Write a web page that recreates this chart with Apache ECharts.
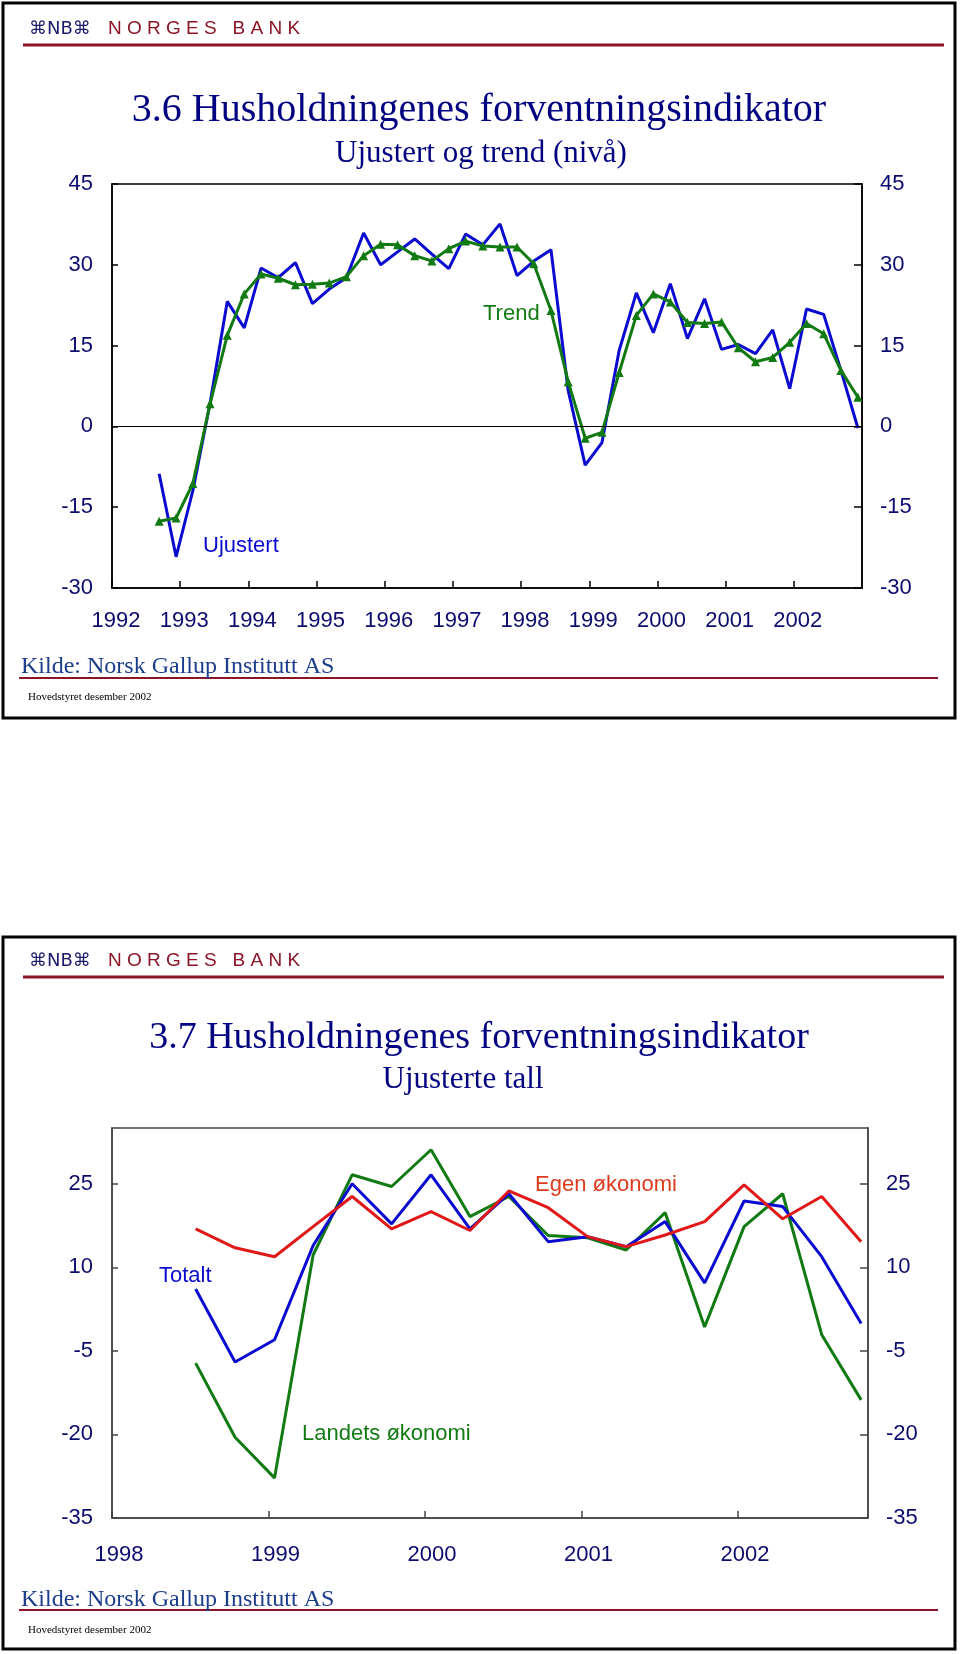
<!DOCTYPE html>
<html>
<head>
<meta charset="utf-8">
<script src="https://cdn.jsdelivr.net/npm/echarts@6/dist/echarts.min.js"></script>
<style>
html,body{margin:0;padding:0;background:#fff;}
#chart{width:960px;height:1654px;}
</style>
</head>
<body>
<div id="chart"></div>
<script>
// ---------- Figure 3.6 data (quarterly survey) ----------
const dates1 = [
  '1992-09-10','1992-12-10',
  '1993-03-10','1993-06-10','1993-09-10','1993-12-10',
  '1994-03-10','1994-06-10','1994-09-10','1994-12-10',
  '1995-03-10','1995-06-10','1995-09-10','1995-12-10',
  '1996-03-10','1996-06-10','1996-09-10','1996-12-10',
  '1997-03-10','1997-06-10','1997-09-10','1997-12-10',
  '1998-03-10','1998-06-10','1998-09-10','1998-12-10',
  '1999-03-10','1999-06-10','1999-09-10','1999-12-10',
  '2000-03-10','2000-06-10','2000-09-10','2000-12-10',
  '2001-03-10','2001-06-10','2001-09-10','2001-12-10',
  '2002-03-10','2002-06-10','2002-09-10','2002-12-10'
];
const ujustert = [
  -8.8, -24.2,
  -11.9, 4.3, 23.2, 18.3,
  29.4, 27.6, 30.4, 22.8,
  25.5, 27.6, 35.9, 30.0,
  32.4, 34.8, 32.0, 29.3,
  35.7, 33.7, 37.6, 28.0,
  30.7, 32.8, 6.7, -7.2,
  -3.0, 14.1, 24.8, 17.4,
  26.5, 16.3, 23.7, 14.3,
  15.2, 13.5, 17.9, 7.0,
  21.8, 20.8, 10.4, -0.3
];
const trend = [
  -17.6, -17.0,
  -10.6, 4.2, 16.9, 24.6,
  28.3, 27.5, 26.3, 26.4,
  26.6, 27.8, 31.7, 33.8,
  33.7, 31.7, 30.7, 33.0,
  34.4, 33.5, 33.3, 33.3,
  30.2, 21.5, 8.3, -2.2,
  -1.1, 10.0, 20.6, 24.6,
  23.1, 19.3, 19.1, 19.4,
  14.6, 12.0, 12.8, 15.6,
  19.1, 17.2, 10.4, 5.4
];

// ---------- Figure 3.7 data ----------
const dates2 = [
  '1998-07-15','1998-10-15',
  '1999-01-15','1999-04-15','1999-07-15','1999-10-15',
  '2000-01-15','2000-04-15','2000-07-15','2000-10-15',
  '2001-01-15','2001-04-15','2001-07-15','2001-10-15',
  '2002-01-15','2002-04-15','2002-07-15','2002-10-15'
];
const egenOkonomi = [16.9, 13.5, 11.9, 17.3, 22.7, 16.9, 20.0, 16.6, 23.7, 20.7, 15.5, 13.7, 15.8, 18.2, 24.8, 18.7, 22.7, 14.6];
const totalt      = [6.1, -7.0, -3.0, 13.9, 25.0, 17.8, 26.6, 16.9, 23.2, 14.6, 15.5, 13.7, 18.2, 7.2, 21.9, 20.9, 11.9, -0.1];
const landetsOkonomi = [-7.2, -20.5, -27.8, 12.2, 26.6, 24.5, 31.1, 19.1, 22.7, 15.7, 15.3, 13.1, 19.8, -0.7, 17.3, 23.2, -2.1, -13.8];

// axis ranges / ticks
const axis1Y = {min: -30, max: 45, step: 15, showMax: true};
const axis1X = {min: 1992, max: 2003, step: 1};
const axis2Y = {min: -35, max: 35, step: 15, showMax: false};
const axis2X = {min: 1998, max: 2002.83, step: 1};

function toYear(s) {
  const p = s.split('-').map(Number);
  const start = Date.UTC(p[0], 0, 1), end = Date.UTC(p[0] + 1, 0, 1);
  return p[0] + (Date.UTC(p[0], p[1] - 1, p[2]) - start) / (end - start);
}
function pairs(dates, vals) { return dates.map((d, i) => [toYear(d), vals[i]]); }

const NAVY = '#0b0b6e';
const LABEL_FONT = 'Liberation Sans';
const SERIF = 'Liberation Serif';

function xAxisCfg(grid, ax, color, pad, margin) {
  return {
    type: 'value', gridIndex: grid, min: ax.min, max: ax.max, interval: ax.step,
    axisLine: {show: true, onZero: false, lineStyle: {color: color, width: 1.5}},
    axisTick: {show: true, inside: true, length: 7, lineStyle: {color: color, width: 1.5}},
    axisLabel: {color: NAVY, fontSize: 22, fontFamily: LABEL_FONT, margin: margin,
      showMaxLabel: false, padding: [0, 0, 0, pad],
      formatter: v => (Number.isInteger(v) ? String(v) : '')},
    splitLine: {show: false}
  };
}
function yAxisCfg(grid, ax, pos, color, tickLen, margin) {
  return {
    type: 'value', gridIndex: grid, position: pos, min: ax.min, max: ax.max, interval: ax.step,
    axisLine: {show: true, onZero: false, lineStyle: {color: color, width: 1.5}},
    axisTick: {show: true, inside: true, length: tickLen, lineStyle: {color: color, width: 1.5}},
    axisLabel: {color: NAVY, fontSize: 22, fontFamily: LABEL_FONT, margin: margin, showMaxLabel: ax.showMax,
      formatter: v => String(v)},
    splitLine: {show: false}
  };
}

function txt(text, x, y, size, color, family, align) {
  return {type: 'text', x: x, y: y, z: 10,
    style: {text: text, fontSize: size, fontFamily: family, fill: color,
      align: align || 'left', verticalAlign: 'middle'}};
}
function hline(x1, x2, y, w, color) {
  return {type: 'line', z: 5, shape: {x1: x1, y1: y, x2: x2, y2: y}, style: {stroke: color, lineWidth: w}};
}
const DARKRED = '#8b1526';

const graphics = [
  // frames
  {type: 'rect', z: 1, shape: {x: 3, y: 3, width: 952, height: 715}, style: {fill: 'none', stroke: '#000', lineWidth: 3}},
  {type: 'rect', z: 1, shape: {x: 3, y: 937, width: 952, height: 712}, style: {fill: 'none', stroke: '#000', lineWidth: 3}},
  // headers
  txt('⌘NB⌘', 29, 29, 18, '#1b1b6b', 'DejaVu Sans'),
  txt('N O R G E S   B A N K', 108, 29, 19, DARKRED, 'Liberation Sans'),
  hline(23, 944, 45, 3, DARKRED),
  txt('⌘NB⌘', 29, 961, 18, '#1b1b6b', 'DejaVu Sans'),
  txt('N O R G E S   B A N K', 108, 961, 19, DARKRED, 'Liberation Sans'),
  hline(23, 944, 977, 3, DARKRED),
  // titles
  txt('3.6 Husholdningenes forventningsindikator', 479, 110, 40, '#000080', SERIF, 'center'),
  txt('Ujustert og trend (nivå)', 481, 154, 31, '#000080', SERIF, 'center'),
  txt('3.7 Husholdningenes forventningsindikator', 479, 1038, 38, '#000080', SERIF, 'center'),
  txt('Ujusterte tall', 463, 1080, 31, '#000080', SERIF, 'center'),
  // series labels
  txt('Trend', 483, 314, 22, '#127a12', LABEL_FONT),
  txt('Ujustert', 203, 546, 22, '#0a0ad0', LABEL_FONT),
  txt('Totalt', 159, 1276, 22, '#0a0ad0', LABEL_FONT),
  txt('Landets økonomi', 302, 1434, 22, '#127a12', LABEL_FONT),
  txt('Egen økonomi', 535, 1185, 22, '#dc3b1e', LABEL_FONT),
  // footers
  hline(19, 938, 678, 2, DARKRED),
  txt('Kilde: Norsk Gallup Institutt AS', 21, 667, 24, '#1c3c8c', SERIF),
  txt('Hovedstyret desember 2002', 28, 697, 11, '#000', SERIF),
  hline(19, 938, 1610, 2, DARKRED),
  txt('Kilde: Norsk Gallup Institutt AS', 21, 1600, 24, '#1c3c8c', SERIF),
  txt('Hovedstyret desember 2002', 28, 1630, 11, '#000', SERIF)
];

const chart = echarts.init(document.getElementById('chart'), null, {renderer: 'canvas'});
chart.setOption({
  animation: false,
  backgroundColor: '#fff',
  grid: [
    {left: 112, top: 184, width: 750, height: 404, show: true, borderColor: '#000', borderWidth: 1.5, backgroundColor: 'transparent'},
    {left: 112, top: 1128, width: 756, height: 390, show: true, borderColor: '#444', borderWidth: 1.5, backgroundColor: 'transparent'}
  ],
  xAxis: [
    xAxisCfg(0, axis1X, '#000', 8, 22),
    xAxisCfg(1, axis2X, '#444', 14, 26)
  ],
  yAxis: [
    yAxisCfg(0, axis1Y, 'left', '#000', 6, 19),
    yAxisCfg(0, axis1Y, 'right', '#000', 8, 18),
    yAxisCfg(1, axis2Y, 'left', '#444', 6, 19),
    yAxisCfg(1, axis2Y, 'right', '#444', 8, 18)
  ],
  series: [
    {name: 'Ujustert', type: 'line', xAxisIndex: 0, yAxisIndex: 0, data: pairs(dates1, ujustert),
      showSymbol: false, symbol: 'none', lineStyle: {color: '#0a0ad0', width: 3}, itemStyle: {color: '#0a0ad0'}, z: 3,
      markLine: {silent: true, symbol: 'none', label: {show: false}, lineStyle: {color: '#000', width: 1.2, type: 'solid'},
        data: [{yAxis: 0}]}},
    {name: 'Trend', type: 'line', xAxisIndex: 0, yAxisIndex: 0, data: pairs(dates1, trend),
      symbol: 'triangle', symbolSize: 9, lineStyle: {color: '#127a12', width: 3}, itemStyle: {color: '#127a12'}, z: 4},
    {name: 'Egen økonomi', type: 'line', xAxisIndex: 1, yAxisIndex: 2, data: pairs(dates2, egenOkonomi),
      symbol: 'none', lineStyle: {color: '#e01818', width: 3}, z: 5},
    {name: 'Totalt', type: 'line', xAxisIndex: 1, yAxisIndex: 2, data: pairs(dates2, totalt),
      symbol: 'none', lineStyle: {color: '#0a0ad0', width: 3}, z: 4},
    {name: 'Landets økonomi', type: 'line', xAxisIndex: 1, yAxisIndex: 2, data: pairs(dates2, landetsOkonomi),
      symbol: 'none', lineStyle: {color: '#127a12', width: 3}, z: 3}
  ],
  graphic: graphics
});
</script>
</body>
</html>
